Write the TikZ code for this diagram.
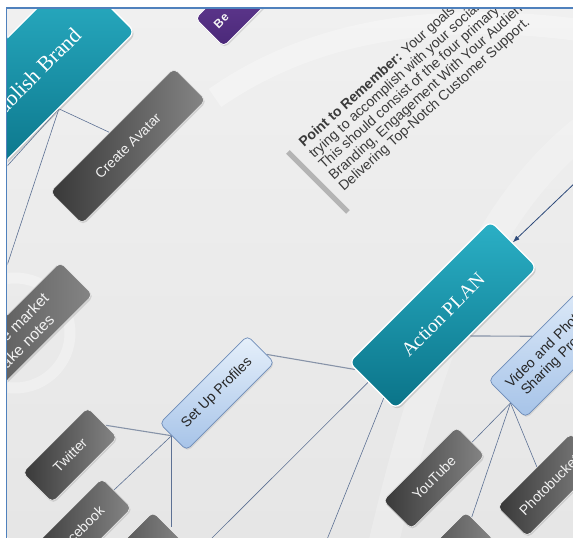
\documentclass[tikz,border=0pt]{standalone}
\usepackage{fontspec}
\setmainfont{Liberation Sans}
\newfontfamily\serifbox{Liberation Serif}
\usetikzlibrary{calc,arrows.meta,shadows}
\definecolor{bgA}{HTML}{F0F0F0}
\definecolor{bgB}{HTML}{E6E6E6}
\definecolor{frameblue}{HTML}{4F81BD}
\definecolor{tealA}{HTML}{2BB0C6}
\definecolor{tealB}{HTML}{0A7388}
\definecolor{darkA}{HTML}{383838}
\definecolor{darkB}{HTML}{858585}
\definecolor{blueA}{HTML}{E6F0FB}
\definecolor{blueB}{HTML}{A6C3E8}
\definecolor{blueedge}{HTML}{6E8CB8}
\definecolor{purpA}{HTML}{8052B2}
\definecolor{purpB}{HTML}{4A2878}
\definecolor{linkc}{HTML}{5D7194}
\definecolor{fuzzc}{HTML}{8793A8}
\definecolor{arrowc}{HTML}{2E4A7A}
\definecolor{notec}{HTML}{3A3A3A}
\definecolor{barc}{HTML}{B4B4B4}
\pgfdeclarelayer{bg}
\pgfsetlayers{bg,main}
\tikzset{
  box/.style={rectangle, rounded corners=5pt, rotate=45, inner sep=0pt, align=center},
  darkbox/.style={box, left color=darkA, right color=darkB, draw=white!85!gray, line width=0.6pt,
    text=white!90!gray, font=\fontsize{14}{17}\selectfont,
    drop shadow={opacity=0.25, shadow xshift=1pt, shadow yshift=-1.5pt}},
  bluebox/.style={box, top color=blueA, bottom color=blueB, draw=blueedge, line width=0.7pt,
    text=black!85, font=\fontsize{14}{16}\selectfont,
    drop shadow={opacity=0.2, shadow xshift=1pt, shadow yshift=-1.5pt}},
  tealbox/.style={box, rounded corners=7pt, top color=tealA, bottom color=tealB, draw=white, line width=1.3pt,
    text=white, font=\serifbox\fontsize{19.5}{23}\selectfont,
    drop shadow={opacity=0.3, shadow xshift=1.5pt, shadow yshift=-2pt}},
  purplebox/.style={box, top color=purpA, bottom color=purpB, draw=white, line width=0.8pt,
    text=white!92!gray, font=\bfseries\fontsize{12}{14}\selectfont,
    drop shadow={opacity=0.25, shadow xshift=1pt, shadow yshift=-1.5pt}},
  conn/.style={draw=linkc, line width=0.6pt},
  fuzz/.style={draw=fuzzc, line width=1.1pt},
  notetext/.style={anchor=base west, rotate=42, inner sep=0pt, text=notec, font=\fontsize{14}{15}\selectfont},
  frame/.style={draw=frameblue, line width=1.8pt}
}
\begin{document}
\begin{tikzpicture}[x=1pt,y=1pt]
\useasboundingbox (0,0) rectangle (573,538);

% ---------- nodes ----------
\begin{scope}
\clip (7.5,0) rectangle (573,529.5);
\node[tealbox, minimum width=208pt, minimum height=86pt] (eb) at (31,463) {};
\node[text=white, font=\serifbox\fontsize{21.5}{25}\selectfont, rotate=45, inner sep=0pt] (ebt) at (29,458) {Establish Brand};
\node[purplebox, minimum height=40pt, text width=132pt, inner xsep=9pt, align=left] (be) at (262.5,558.5) {Be};
\node[darkbox, minimum width=175pt, minimum height=45pt] (ca) at (128,392) {Create Avatar};
\node[darkbox, minimum height=46pt, text width=162pt, inner xsep=34pt, align=right, font=\fontsize{15.5}{19}\selectfont] (mk) at (-4.8,178.2)
  {Research the market\\and take notes\rule{11pt}{0pt}};
\node[tealbox, minimum width=200pt, minimum height=66pt] (ap) at (443,223) {Action PLAN};
\node[bluebox, minimum width=124pt, minimum height=38pt] (sp) at (217,145) {Set Up Profiles};
\node[bluebox, minimum height=52pt, text width=140pt, inner xsep=10pt, align=left] (vp) at (563.6,195.6)
  {Video and Photo\\\rule{6pt}{0pt}Sharing Programs};
\node[darkbox, minimum width=92pt, minimum height=42pt] (tw) at (70,83) {Twitter};
\node[darkbox, minimum width=104pt, minimum height=42pt] (fb) at (80,8) {Facebook};
\node[darkbox, minimum width=104pt, minimum height=42pt] (b3) at (131,-25.6) {};
\node[darkbox, minimum width=104pt, minimum height=40pt] (yt) at (434,60) {YouTube};
\node[darkbox, minimum width=104pt, minimum height=40pt] (b4) at (443.3,-24.9) {};
\node[darkbox, minimum width=104pt, minimum height=42pt] (pb) at (549,53) {Photobucket};
% note
\draw[barc, line width=5pt] (288,386) -- (348,326);
\begin{scope}[shift={(304,390)}, rotate=42]
\node[notetext] (n1) at (0,0) {\textbf{Point to Remember:} Your goals};
\node[notetext] (n2) at (0,-14.8) {trying to accomplish with your social};
\node[notetext] (n3) at (0,-29.6) {This should consist of the four primary};
\node[notetext] (n4) at (0,-44.4) {Branding, Engagement With Your Audience};
\node[notetext] (n5) at (0,-59.2) {Delivering Top-Notch Customer Support.};
\end{scope}
\end{scope}

% ---------- background and connectors ----------
\begin{pgfonlayer}{bg}
\fill[white] (0,0) rectangle (573,538);
\begin{scope}
\clip (7.5,0) rectangle (573,529.5);
\shade[top color=bgA, bottom color=bgB] (0,0) rectangle (573,538);
\draw[white, opacity=0.3, line width=22pt] (215,440) .. controls (330,520) and (470,525) .. (600,505);
\draw[white, opacity=0.22, line width=30pt] (600,420) .. controls (470,330) and (420,150) .. (380,-20);
\draw[white, opacity=0.3, line width=11pt] (15,205) circle (55);
\coordinate (e1) at (-10,353);
\coordinate (e2) at (-10,221);
\coordinate (a1) at (195,-17);
\coordinate (a2) at (322,-14);
\coordinate (asrc) at (600,379);
\coordinate (ebo) at ($(eb.south west)!0.48!(eb.south east)$);
\coordinate (spo) at ($(sp.north west)!0.45!(sp.south west)$);
\coordinate (vpo) at ($(vp.north west)!0.6!(vp.south west)$);
\coordinate (b3e) at ($(b3.north east)!0.5!(b3.south east)$);
\draw[conn] (ebo) -- ($(ca.north west)!0.48!(ca.north east)$);
\draw[conn] (ebo) -- (e1);
\draw[conn] (ebo) -- (e2);
\draw[fuzz] ($(sp.north east)!0.7!(sp.south east)$) -- ($(ap.north west)!0.15!(ap.south west)$);
\draw[fuzz] ($(ap.south west)!0.52!(ap.south east)$) -- ($(vp.north west)!0.39!(vp.north east)$);
\draw[conn] ($(ap.north west)!0.42!(ap.south west)$) -- (a1);
\draw[conn] ($(ap.north west)!0.75!(ap.south west)$) -- (a2);
\draw[fuzz] (spo) -- ($(tw.north east)!0.6!(tw.south east)$);
\draw[conn] (spo) -- ($(fb.north east)!0.4!(fb.south east)$);
\draw[conn] (spo) -- (spo |- b3e);
\draw[conn] (vpo) -- ($(yt.north east)!0.54!(yt.south east)$);
\draw[conn] (vpo) -- ($(b4.north east)!0.2!(b4.south east)$);
\draw[conn] (vpo) -- ($(pb.north west)!0.54!(pb.north east)$);
\draw[arrowc, line width=0.8pt, -{Latex[length=7pt,width=5pt]}] (asrc) -- ($(ap.north east)!0.47!(ap.south east)$);
\end{scope}
\end{pgfonlayer}

% ---------- frame ----------
\draw[frame] (6.5,0) -- (6.5,530) -- (573,530);
\end{tikzpicture}
\end{document}
